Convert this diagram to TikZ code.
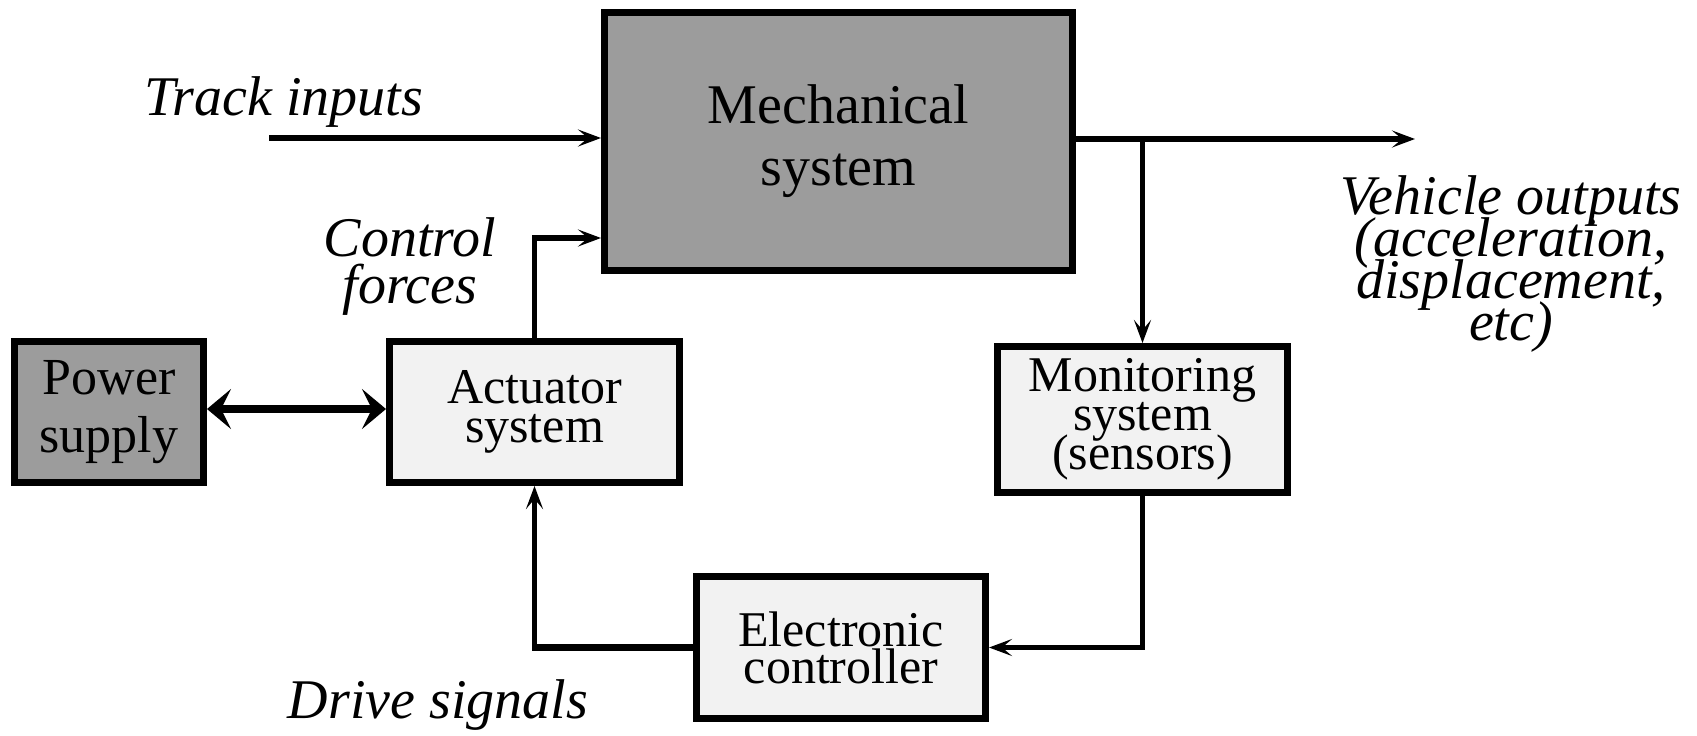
\documentclass[tikz,border=0pt]{standalone}
\usepackage{fontspec}
\setmainfont{Liberation Serif}
\usetikzlibrary{arrows.meta}
\definecolor{mechfill}{HTML}{9C9C9C}
\definecolor{lightfill}{HTML}{F2F2F2}
\begin{document}
\lineskiplimit=-100pt
\begin{tikzpicture}[x=0.5pt,y=-0.5pt,
  box/.style={draw=black, line width=3.7pt, inner sep=0pt, align=center,
    font=\fontsize{25}{19.5}\selectfont},
  darkbox/.style={box, fill=mechfill},
  lightbox/.style={box, fill=lightfill},
  lbl/.style={font=\fontsize{28}{21}\selectfont\itshape, align=center, inner sep=0pt},
  tip/.style={-{Stealth[length=11.5pt,width=8.5pt,inset=5pt]}},
  conn/.style={line width=2.2pt, tip},
  bigtip/.tip={Stealth[length=12pt,width=20pt,inset=5pt]},
]
\useasboundingbox (0,0) rectangle (1697,735);

% boxes
\node[darkbox, minimum width=233.8pt, minimum height=128.8pt,
  font=\fontsize{28}{31}\selectfont] (mech) at (838.5,141.5) {Mechanical\\system};
\node[darkbox, minimum width=94.3pt, minimum height=70.3pt,
  font=\fontsize{26}{29}\selectfont] (pow) at (109,412) {Power\\supply};
\node[lightbox, minimum width=144.8pt, minimum height=70.3pt] (act) at (534.5,412) {Actuator\\system};
\node[lightbox, minimum width=144.8pt, minimum height=72.8pt] (mon) at (1142.5,419.5) {Monitoring\\system\\(sensors)};
\node[lightbox, minimum width=144.3pt, minimum height=70.8pt,
  font=\fontsize{25}{18.5}\selectfont] (ctrl) at (841,647.5) {Electronic\\controller};

% labels
\node[lbl, anchor=base] (ltrack) at (284,115) {Track inputs};
\node[lbl, font=\fontsize{28}{23.5}\selectfont\itshape] (lcf) at (410,267) {Control\\forces};
\node[lbl] (lvo) at (1511,264) {Vehicle outputs\\(acceleration,\\displacement,\\etc)};
\node[lbl, anchor=base] (lds) at (438,718) {Drive signals};

% connectors
\coordinate (trackstart) at (269,138);
\draw[conn, line width=3pt] (trackstart) -- (trackstart -| mech.west);

\coordinate (cfcorner) at (534.5,238);
\draw[conn, line width=2.7pt] (act.north) -- (cfcorner) -- (cfcorner -| mech.west);

\coordinate (voend) at (1415,139);
\draw[conn, line width=2.6pt] (voend -| mech.east) -- (voend);

\coordinate (branch) at (1142.5,139);
\draw[conn] (branch) -- (mon.north);

\draw[conn, line width=2.6pt] (mon.south) |- (ctrl.east);

\coordinate (dscorner) at (act.south |- ctrl.west);
\draw[line width=3.6pt] (ctrl.west) -- ([xshift=-1.1pt]dscorner);
\draw[conn] (dscorner) -- (act.south);

\draw[line width=4pt, bigtip-bigtip]
  ([yshift=1.5pt]pow.east) -- ([yshift=1.5pt]act.west);
\end{tikzpicture}
\end{document}
